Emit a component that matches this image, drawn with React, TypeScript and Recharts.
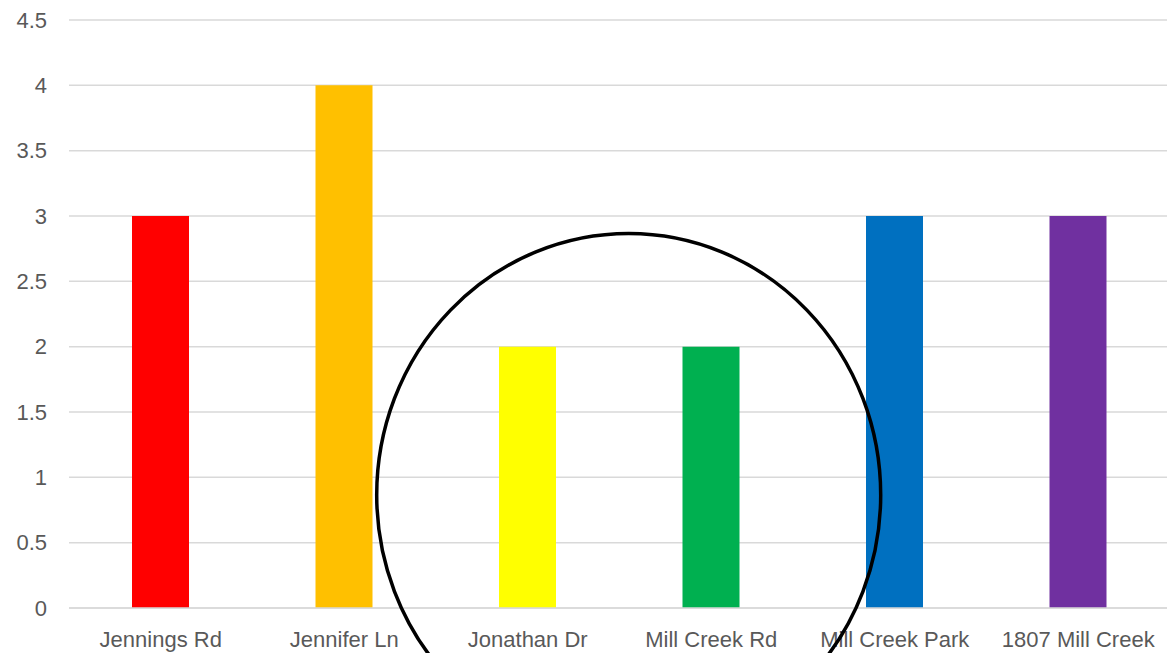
import React from "react";
import { BarChart, Bar, XAxis, YAxis, CartesianGrid, Cell } from "recharts";

const categories = ["Jennings Rd", "Jennifer Ln", "Jonathan Dr", "Mill Creek Rd", "Mill Creek Park", "1807 Mill Creek"];
const values = [3, 4, 2, 2, 3, 3];
const barColors = ["#FF0000", "#FFC000", "#FFFF00", "#00B050", "#0070C0", "#7030A0"];
const yTicks = [0, 0.5, 1, 1.5, 2, 2.5, 3, 3.5, 4, 4.5];

const data = categories.map((name, i) => ({ name, value: values[i] }));

const FONT = '"Liberation Sans", Arial, sans-serif';

export default function App() {
  return (
    <div style={{ position: "fixed", left: 0, top: 0, width: 1167, height: 653, overflow: "hidden", background: "#fff" }}>
      <BarChart
        width={1170}
        height={653}
        data={data}
        margin={{ top: 20, right: 0, bottom: 0, left: 0 }}
        barSize={57}
      >
        <CartesianGrid vertical={false} stroke="#d9d9d9" strokeWidth={1.5} />
        <XAxis
          dataKey="name"
          height={45}
          axisLine={{ stroke: "#d9d9d9", strokeWidth: 1.5 }}
          tickLine={false}
          tickSize={0}
          tickMargin={23}
          interval={0}
          tick={{ fill: "#595959", fontSize: 22, fontFamily: FONT }}
        />
        <YAxis
          width={69}
          domain={[0, 4.5]}
          ticks={yTicks}
          axisLine={false}
          tickLine={false}
          tickSize={0}
          tickMargin={22}
          tick={{ fill: "#595959", fontSize: 22, fontFamily: FONT }}
        />
        <Bar dataKey="value" isAnimationActive={false}>
          {data.map((d, i) => (
            <Cell key={d.name} fill={barColors[i]} />
          ))}
        </Bar>
      </BarChart>
      <svg
        width={1167}
        height={653}
        style={{ position: "absolute", left: 0, top: 0, pointerEvents: "none" }}
      >
        <ellipse cx={628.7} cy={495} rx={252} ry={261.5} fill="none" stroke="#000" strokeWidth={3.5} />
      </svg>
    </div>
  );
}
